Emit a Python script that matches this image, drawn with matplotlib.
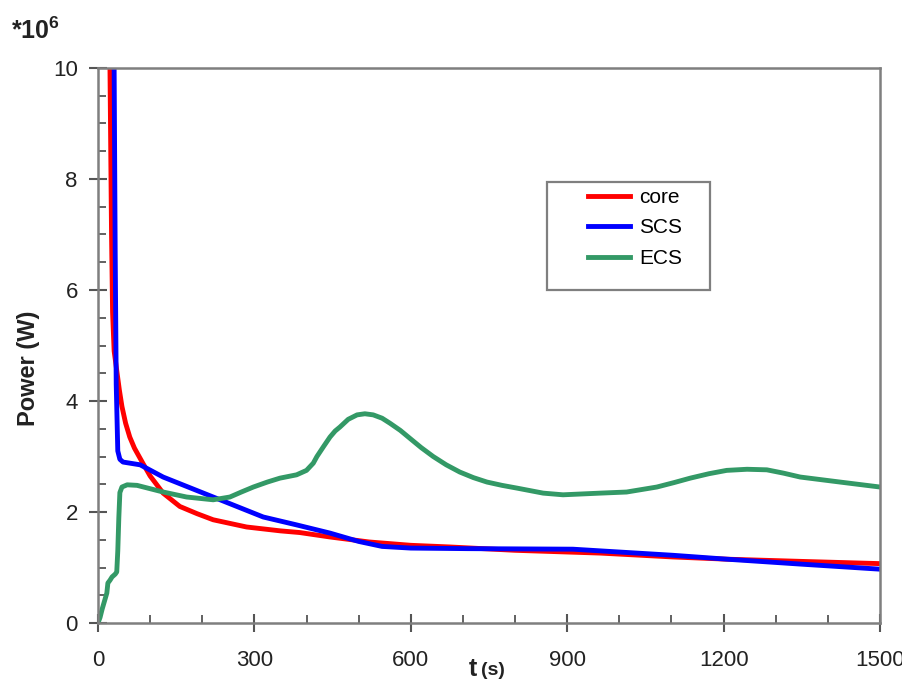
import matplotlib.pyplot as plt
from matplotlib.patches import Rectangle
from matplotlib.ticker import MultipleLocator

plt.rcParams['font.family'] = ['Liberation Sans', 'DejaVu Sans']

# power in units of 1e6 W, time in s
core_t = [23, 25, 26, 28, 31, 36, 41, 46, 53, 61, 70, 86, 100, 125, 157, 190, 221, 285,
          350, 387, 445, 520, 600, 675, 800, 963, 1103, 1206, 1350, 1500]
core_p = [10.0, 8.0, 7.0, 5.6, 4.9, 4.55, 4.2, 3.9, 3.6, 3.35, 3.15, 2.88, 2.65, 2.34, 2.1,
          1.97, 1.86, 1.73, 1.66, 1.63, 1.55, 1.46, 1.40, 1.37, 1.31, 1.26, 1.19, 1.15, 1.11, 1.07]

scs_t = [31, 33, 35, 38, 42, 48, 81, 125, 221, 317, 380, 445, 500, 545, 600, 708, 911,
         963, 1103, 1206, 1350, 1500]
scs_p = [10.0, 6.7, 4.3, 3.1, 2.95, 2.9, 2.85, 2.63, 2.27, 1.91, 1.77, 1.62, 1.47, 1.38,
         1.35, 1.34, 1.33, 1.30, 1.22, 1.15, 1.06, 0.97]

ecs_t = [0, 4, 8, 17, 19, 23, 27, 33, 36, 38, 40, 42, 46, 56, 75, 100, 125, 170, 221, 253,
         275, 298, 325, 349, 381, 400, 413, 420, 432, 445, 455, 464, 480, 497, 512, 528,
         545, 560, 580, 598, 620, 643, 668, 694, 720, 746, 775, 804, 854, 892, 963, 1014,
         1072, 1105, 1136, 1172, 1206, 1245, 1283, 1315, 1347, 1423, 1500]
ecs_p = [0.0, 0.1, 0.25, 0.54, 0.72, 0.77, 0.83, 0.88, 0.92, 1.3, 1.9, 2.35, 2.45, 2.49,
         2.48, 2.42, 2.36, 2.27, 2.22, 2.27, 2.36, 2.45, 2.54, 2.61, 2.67, 2.75, 2.88, 3.0,
         3.17, 3.35, 3.46, 3.53, 3.67, 3.75, 3.77, 3.75, 3.69, 3.6, 3.47, 3.33, 3.16, 3.0,
         2.85, 2.72, 2.62, 2.54, 2.48, 2.43, 2.34, 2.31, 2.34, 2.36, 2.45, 2.53, 2.61, 2.69,
         2.75, 2.77, 2.76, 2.70, 2.63, 2.54, 2.45]

labels = ['core', 'SCS', 'ECS']
colors = ['#ff0000', '#0000ff', '#339966']

fig = plt.figure(figsize=(9.03, 6.82), dpi=100)
ax = fig.add_axes([0.1085, 0.0865, 0.866, 0.8138])

ax.plot(core_t, core_p, color=colors[0], lw=3.5, label=labels[0])
ax.plot(scs_t, scs_p, color=colors[1], lw=3.5, label=labels[1])
ax.plot(ecs_t, ecs_p, color=colors[2], lw=3.5, label=labels[2])

ax.set_xlim(0, 1500)
ax.set_ylim(0, 10)
ax.xaxis.set_major_locator(MultipleLocator(300))
ax.xaxis.set_minor_locator(MultipleLocator(100))
ax.yaxis.set_major_locator(MultipleLocator(2))
ax.yaxis.set_minor_locator(MultipleLocator(0.5))

for s in ax.spines.values():
    s.set_color('#7f7f7f')
    s.set_linewidth(1.8)

ax.tick_params(axis='x', which='major', direction='inout', length=13, width=1.5,
               color='#555555', pad=13, labelsize=16, labelcolor='#222222')
ax.tick_params(axis='y', which='major', direction='inout', length=13, width=1.5,
               color='#555555', pad=8, labelsize=16, labelcolor='#222222')
ax.tick_params(which='minor', direction='in', length=6, width=1.3, color='#555555')

# legend frame and entries
ax.add_patch(Rectangle((0.574, 0.6), 0.209, 0.195, transform=ax.transAxes,
                       fill=False, edgecolor='#7f7f7f', lw=1.6, zorder=5))
ax.legend(loc='upper left', bbox_to_anchor=(0.627, 0.784), frameon=False,
          fontsize=15, handlelength=2.0, handletextpad=0.45, labelspacing=0.55,
          borderpad=0, borderaxespad=0)

fig.text(0.032, 0.46, 'Power (W)', rotation=90, ha='center', va='center',
         fontsize=17, fontweight='bold', color='#222222')
fig.text(0.528, 0.019, 't', ha='right', va='center', fontsize=18,
         fontweight='bold', color='#222222')
fig.text(0.533, 0.017, '(s)', ha='left', va='center', fontsize=14,
         fontweight='bold', color='#222222')
fig.text(0.012, 0.955, r'$\mathregular{*10^6}$', ha='left', va='center',
         fontsize=18, fontweight='bold', color='#222222')

fig.savefig('out.png', dpi=100)
